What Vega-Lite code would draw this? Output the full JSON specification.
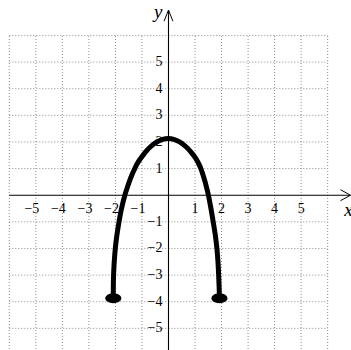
{
  "$schema": "https://vega.github.io/schema/vega-lite/v6.json",
  "width": 351,
  "height": 350,
  "padding": 0,
  "autosize": {"type": "none"},
  "background": "white",
  "config": {"view": {"stroke": null}},
  "datasets": {
    "grid": [
      {"x1": -6, "y1": -6, "x2": -6, "y2": 6},
      {"x1": -5, "y1": -6, "x2": -5, "y2": 6},
      {"x1": -4, "y1": -6, "x2": -4, "y2": 6},
      {"x1": -3, "y1": -6, "x2": -3, "y2": 6},
      {"x1": -2, "y1": -6, "x2": -2, "y2": 6},
      {"x1": -1, "y1": -6, "x2": -1, "y2": 6},
      {"x1": 1, "y1": -6, "x2": 1, "y2": 6},
      {"x1": 2, "y1": -6, "x2": 2, "y2": 6},
      {"x1": 3, "y1": -6, "x2": 3, "y2": 6},
      {"x1": 4, "y1": -6, "x2": 4, "y2": 6},
      {"x1": 5, "y1": -6, "x2": 5, "y2": 6},
      {"x1": 6, "y1": -6, "x2": 6, "y2": 6},
      {"x1": -6, "y1": -6, "x2": 6, "y2": -6},
      {"x1": -6, "y1": -5, "x2": 6, "y2": -5},
      {"x1": -6, "y1": -4, "x2": 6, "y2": -4},
      {"x1": -6, "y1": -3, "x2": 6, "y2": -3},
      {"x1": -6, "y1": -2, "x2": 6, "y2": -2},
      {"x1": -6, "y1": -1, "x2": 6, "y2": -1},
      {"x1": -6, "y1": 1, "x2": 6, "y2": 1},
      {"x1": -6, "y1": 2, "x2": 6, "y2": 2},
      {"x1": -6, "y1": 3, "x2": 6, "y2": 3},
      {"x1": -6, "y1": 4, "x2": 6, "y2": 4},
      {"x1": -6, "y1": 5, "x2": 6, "y2": 5},
      {"x1": -6, "y1": 6, "x2": 6, "y2": 6}
    ],
    "axes": [
      {"x1": -6, "y1": 0, "x2": 6.86, "y2": 0},
      {"x1": 0, "y1": -6, "x2": 0, "y2": 6.95}
    ],
    "curve": [
      {"i": 0, "x": -2.08, "y": -3.87},
      {"i": 1, "x": -2.08, "y": -3.5},
      {"i": 2, "x": -2.07, "y": -3.0},
      {"i": 3, "x": -2.045, "y": -2.5},
      {"i": 4, "x": -2.005, "y": -2.0},
      {"i": 5, "x": -1.945, "y": -1.5},
      {"i": 6, "x": -1.865, "y": -1.0},
      {"i": 7, "x": -1.77, "y": -0.5},
      {"i": 8, "x": -1.645, "y": 0},
      {"i": 9, "x": -1.565, "y": 0.25},
      {"i": 10, "x": -1.48, "y": 0.5},
      {"i": 11, "x": -1.385, "y": 0.75},
      {"i": 12, "x": -1.27, "y": 1.0},
      {"i": 13, "x": -1.17, "y": 1.2},
      {"i": 14, "x": -1.035, "y": 1.4},
      {"i": 15, "x": -0.885, "y": 1.6},
      {"i": 16, "x": -0.7, "y": 1.8},
      {"i": 17, "x": -0.44, "y": 2.0},
      {"i": 18, "x": -0.22, "y": 2.1},
      {"i": 19, "x": -0.01, "y": 2.13},
      {"i": 20, "x": 0.2, "y": 2.1},
      {"i": 21, "x": 0.42, "y": 2.0},
      {"i": 22, "x": 0.68, "y": 1.8},
      {"i": 23, "x": 0.865, "y": 1.6},
      {"i": 24, "x": 1.015, "y": 1.4},
      {"i": 25, "x": 1.13, "y": 1.2},
      {"i": 26, "x": 1.22, "y": 1.0},
      {"i": 27, "x": 1.305, "y": 0.75},
      {"i": 28, "x": 1.38, "y": 0.5},
      {"i": 29, "x": 1.445, "y": 0.25},
      {"i": 30, "x": 1.505, "y": 0},
      {"i": 31, "x": 1.6, "y": -0.5},
      {"i": 32, "x": 1.685, "y": -1.0},
      {"i": 33, "x": 1.765, "y": -1.5},
      {"i": 34, "x": 1.825, "y": -2.0},
      {"i": 35, "x": 1.865, "y": -2.5},
      {"i": 36, "x": 1.89, "y": -3.0},
      {"i": 37, "x": 1.91, "y": -3.5},
      {"i": 38, "x": 1.92, "y": -3.87}
    ],
    "dots": [
      {"x": -2.08, "y": -3.87},
      {"x": 1.92, "y": -3.87}
    ],
    "xlabels": [
      {"t": "−5", "x": -5, "y": 0},
      {"t": "−4", "x": -4, "y": 0},
      {"t": "−3", "x": -3, "y": 0},
      {"t": "−2", "x": -2, "y": 0},
      {"t": "−1", "x": -1, "y": 0},
      {"t": "1", "x": 1, "y": 0},
      {"t": "2", "x": 2, "y": 0},
      {"t": "3", "x": 3, "y": 0},
      {"t": "4", "x": 4, "y": 0},
      {"t": "5", "x": 5, "y": 0}
    ],
    "ylabels": [
      {"t": "5", "x": 0, "y": 5},
      {"t": "4", "x": 0, "y": 4},
      {"t": "3", "x": 0, "y": 3},
      {"t": "2", "x": 0, "y": 2},
      {"t": "1", "x": 0, "y": 1},
      {"t": "−1", "x": 0, "y": -1},
      {"t": "−2", "x": 0, "y": -2},
      {"t": "−3", "x": 0, "y": -3},
      {"t": "−4", "x": 0, "y": -4},
      {"t": "−5", "x": 0, "y": -5}
    ],
    "xarrow": [{"x": 6.86, "y": 0}],
    "yarrow": [{"x": 0, "y": 6.95}],
    "names": [
      {"t": "x", "x": 6.62, "y": -0.56},
      {"t": "y", "x": -0.55, "y": 6.87}
    ]
  },
  "layer": [
    {
      "data": {"name": "grid"},
      "mark": {"type": "rule", "stroke": "#8a8a8a", "strokeWidth": 1, "strokeDash": [1, 2]},
      "encoding": {
        "x": {"field": "x1", "type": "quantitative", "scale": {"domain": [-6.351, 6.879], "nice": false, "zero": false}, "axis": null},
        "y": {"field": "y1", "type": "quantitative", "scale": {"domain": [-5.813, 7.33], "nice": false, "zero": false}, "axis": null},
        "x2": {"field": "x2"},
        "y2": {"field": "y2"}
      }
    },
    {
      "data": {"name": "axes"},
      "mark": {"type": "rule", "stroke": "black", "strokeWidth": 1.1},
      "encoding": {
        "x": {"field": "x1", "type": "quantitative"},
        "y": {"field": "y1", "type": "quantitative"},
        "x2": {"field": "x2"},
        "y2": {"field": "y2"}
      }
    },
    {
      "data": {"name": "xarrow"},
      "mark": {"type": "point", "shape": "M-1,-0.55L0,0L-1,0.55", "filled": false, "stroke": "black", "strokeWidth": 1, "size": 400, "opacity": 1},
      "encoding": {
        "x": {"field": "x", "type": "quantitative"},
        "y": {"field": "y", "type": "quantitative"}
      }
    },
    {
      "data": {"name": "yarrow"},
      "mark": {"type": "point", "shape": "M-0.4,1L0,0L0.4,1", "filled": false, "stroke": "black", "strokeWidth": 1, "size": 484, "opacity": 1},
      "encoding": {
        "x": {"field": "x", "type": "quantitative"},
        "y": {"field": "y", "type": "quantitative"}
      }
    },
    {
      "data": {"name": "xlabels"},
      "mark": {"type": "text", "font": "Liberation Serif", "fontSize": 14, "color": "black", "align": "right", "baseline": "middle", "dx": 3.5, "dy": 13.5},
      "encoding": {
        "x": {"field": "x", "type": "quantitative"},
        "y": {"field": "y", "type": "quantitative"},
        "text": {"field": "t"}
      }
    },
    {
      "data": {"name": "ylabels"},
      "mark": {"type": "text", "font": "Liberation Serif", "fontSize": 14, "color": "black", "align": "right", "baseline": "middle", "dx": -6},
      "encoding": {
        "x": {"field": "x", "type": "quantitative"},
        "y": {"field": "y", "type": "quantitative"},
        "text": {"field": "t"}
      }
    },
    {
      "data": {"name": "names"},
      "mark": {"type": "text", "font": "Liberation Serif", "fontStyle": "italic", "fontSize": 19, "color": "black", "align": "left", "baseline": "middle"},
      "encoding": {
        "x": {"field": "x", "type": "quantitative"},
        "y": {"field": "y", "type": "quantitative"},
        "text": {"field": "t"}
      }
    },
    {
      "data": {"name": "curve"},
      "mark": {"type": "line", "stroke": "black", "strokeWidth": 5, "interpolate": "catmull-rom", "strokeCap": "round"},
      "encoding": {
        "x": {"field": "x", "type": "quantitative"},
        "y": {"field": "y", "type": "quantitative"},
        "order": {"field": "i"}
      }
    },
    {
      "data": {"name": "dots"},
      "mark": {"type": "point", "shape": "M-1,0A1,0.62,0,1,0,1,0A1,0.62,0,1,0,-1,0Z", "filled": true, "color": "black", "size": 256, "opacity": 1},
      "encoding": {
        "x": {"field": "x", "type": "quantitative"},
        "y": {"field": "y", "type": "quantitative"}
      }
    }
  ]
}
